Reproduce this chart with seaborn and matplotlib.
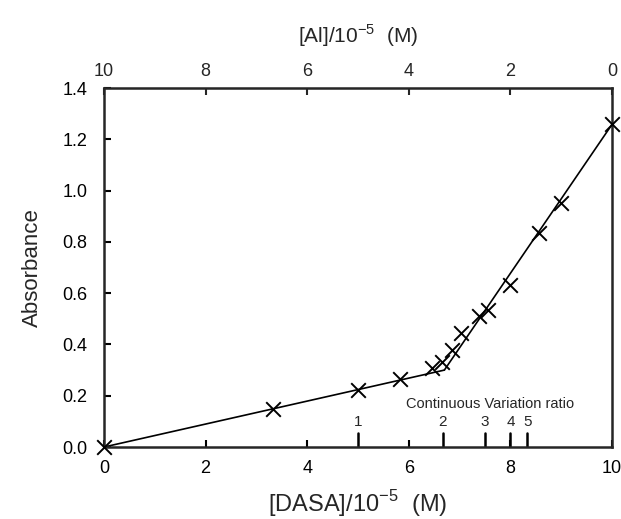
import matplotlib
matplotlib.use("Agg")
import matplotlib.pyplot as plt
import seaborn as sns
import pandas as pd

# measured points
dasa = [0, 3.33, 5.0, 5.83, 6.45, 6.65, 6.85, 7.03, 7.38, 7.55, 7.99, 8.57, 8.99, 10]
absorb = [0, 0.148, 0.222, 0.265, 0.308, 0.333, 0.378, 0.443, 0.51, 0.535, 0.632, 0.834, 0.953, 1.258]

# fitted straight lines
fit1_x = [0, 6.7]
fit1_y = [0, 0.30]
fit2_x = [6.7, 10]
fit2_y = [0.30, 1.258]

# continuous variation ratio marks
ratio_labels = ["1", "2", "3", "4", "5"]
ratio_x = [5.0, 6.67, 7.5, 8.0, 8.33]

sns.set_style("ticks")
plt.rcParams["font.family"] = ["Liberation Sans", "DejaVu Sans"]
plt.rcParams["mathtext.fontset"] = "custom"
plt.rcParams["mathtext.rm"] = "Liberation Sans"

fig = plt.figure(figsize=(6.21, 5.19), dpi=100)
ax = fig.add_axes([0.1675, 0.1387, 0.818, 0.6917])

df = pd.DataFrame({"dasa": dasa, "abs": absorb})
sns.lineplot(x=fit1_x, y=fit1_y, color="black", lw=1.2, ax=ax)
sns.lineplot(x=fit2_x, y=fit2_y, color="black", lw=1.2, ax=ax)
sns.scatterplot(data=df, x="dasa", y="abs", marker="x", s=110, color="black",
                linewidth=1.4, ax=ax, zorder=5, clip_on=False)

ax.set_xlim(0, 10)
ax.set_ylim(0, 1.4)
ax.set_xticks([0, 2, 4, 6, 8, 10])
ax.set_yticks([0, 0.2, 0.4, 0.6, 0.8, 1.0, 1.2, 1.4])
ax.set_yticklabels([f"{v:.1f}" for v in ax.get_yticks()])
ax.tick_params(axis="x", direction="in", length=5, width=1.5, labelsize=13, pad=9, colors="black")
ax.tick_params(axis="y", direction="in", length=5, width=1.5, labelsize=13, pad=12, colors="black")
for s in ax.spines.values():
    s.set_visible(True)
    s.set_linewidth(1.8)

ax.set_xlabel("[DASA]/10$^{-5}$  (M)", fontsize=17, labelpad=8)
ax.set_ylabel("Absorbance", fontsize=16, labelpad=14)

top = ax.secondary_xaxis("top", functions=(lambda x: 10 - x, lambda x: 10 - x))
top.set_xticks([10, 8, 6, 4, 2, 0])
top.tick_params(direction="in", length=5, width=1.5, labelsize=13, pad=6)
top.set_xlabel("[Al]/10$^{-5}$  (M)", fontsize=15, labelpad=14)

# ratio ticks on bottom axis
for lab, xv in zip(ratio_labels, ratio_x):
    ax.plot([xv, xv], [0, 0.055], color="black", lw=1.8)
    ax.text(xv, 0.07, lab, ha="center", va="bottom", fontsize=11)
ax.text(7.6, 0.168, "Continuous Variation ratio", ha="center", va="center", fontsize=10.5)

fig.savefig("out.png", dpi=100)
